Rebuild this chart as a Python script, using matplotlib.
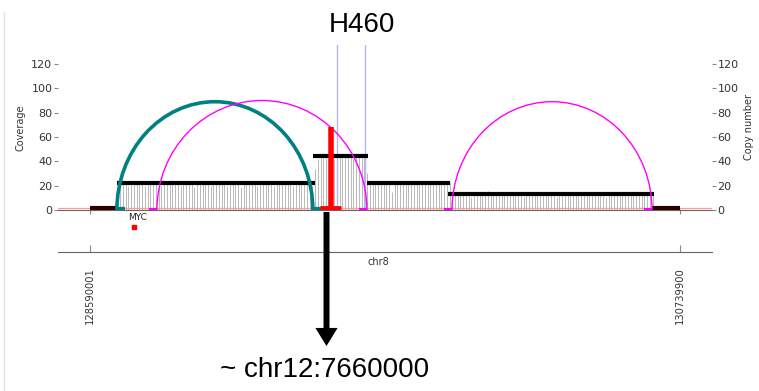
import matplotlib
matplotlib.use('Agg')
import matplotlib.pyplot as plt
from matplotlib.patches import Arc, FancyArrowPatch
from matplotlib.lines import Line2D

# region shown (chr8) and tick positions
chrom = 'chr8'
x_ticks = [128590001, 130739900]
x_lim = [128473400, 130856500]

# binned read coverage, 10 kb bins starting at the left tick
bin_start = 128590001
bin_size = 10000
cov_a = [1, 1, 1, 1, 1, 1, 1, 1, 1, 1]
cov_b = [14, 19, 21, 22, 20, 23, 21, 22, 24, 21, 20, 23, 22, 21, 24, 22, 20, 21, 23, 22,
         25, 21, 22, 20, 23, 24, 21, 22, 19, 22, 23, 21, 24, 22, 20, 22, 23, 21, 22, 24,
         20, 21, 23, 22, 21, 19, 22, 24, 23, 21, 22, 20, 23, 22, 21, 24, 22, 20, 21, 23,
         22, 21, 24, 22, 20, 23, 22, 21, 23, 24, 22, 20]
cov_c = [34, 42, 44, 45, 43, 46, 44, 42, 45, 44, 43, 46, 44, 45, 42, 44, 46, 43, 45, 30]
cov_d = [22, 23, 21, 24, 22, 23, 21, 22, 15, 23, 22, 24, 21, 22, 23, 22, 21, 24, 22, 23,
         21, 22, 24, 23, 21, 22, 23, 22, 21, 23]
cov_e = [12, 13, 12, 14, 13, 12, 13, 11, 13, 12, 14, 13, 12, 16, 13, 12, 13, 14, 12, 13,
         12, 13, 14, 12, 13, 12, 11, 13, 12, 14, 13, 12, 13, 12, 14, 13, 12, 13, 11, 13,
         14, 12, 13, 12, 13, 14, 12, 13, 12, 13, 12, 14, 13, 12, 13, 12, 11, 13, 14, 12,
         13, 12, 13, 14, 12, 13, 12, 13, 12, 14, 13, 12, 13, 12]
cov_f = [1, 1, 1, 1, 1, 1, 1, 1, 1, 1]
coverage = cov_a + cov_b + cov_c + cov_d + cov_e + cov_f

# copy number segments (start, end, cn)
cn_segments = [(128688000, 129409000, 22),
               (129402000, 129603000, 44),
               (129599000, 129902000, 22),
               (129894000, 130645000, 13)]
low_segments = [(128590001, 128688000, 1.5),
                (130638000, 130739900, 1.5)]

# breakpoint arcs: start, end, height, colour, width, foot direction at each end
arcs = [(128688000, 129402000, 89, '#008080', 2.6, (1, 1)),
        (128834000, 129599000, 90, '#ff00ff', 1.0, (-1, -1)),
        (129909000, 130638000, 89, '#ff00ff', 1.0, (-1, -1))]

# focused breakpoint (translocation to chr12)
tx_pos = 129468000
tx_height = 68
tx_base = (129428000, 129505000)
blue_lines = [129490000, 129592000]

gene_name = 'MYC'
gene_pos = 128750000

fig = plt.figure(figsize=(7.59, 3.91), dpi=100)

# faint border from the screenshot
fig.add_artist(Line2D([4 / 759, 4 / 759], [0, 1 - 12 / 391], color='#e4e4e4', lw=1))

# genome axis below
ax2 = fig.add_axes([58 / 759, 1 - 252 / 391, 654 / 759, 8 / 391])
ax2.patch.set_visible(False)
ax2.set_xlim(x_lim)
for sp in ['left', 'right', 'top']:
    ax2.spines[sp].set_visible(False)
ax2.spines['bottom'].set_color('#666666')
ax2.set_yticks([])
ax2.set_xticks(x_ticks)
ax2.set_xticklabels([str(t) for t in x_ticks], rotation=90, fontsize=7.2, color='#333333')
ax2.tick_params(axis='x', direction='in', length=5, color='#888888', pad=11)
fig.text(378 / 759, 1 - 262 / 391, chrom, fontsize=7, ha='center', va='center', color='#333333')

ax = fig.add_axes([58 / 759, 1 - 210 / 391, 654 / 759, 165 / 391])
ax.set_xlim(x_lim)
ax.set_ylim(0, 135.6)

xs = [bin_start + i * bin_size for i in range(len(coverage))]
ax.vlines(xs, 0, coverage, color='#b8b8b8', lw=0.7, zorder=1)

ax.axhline(1.5, color='#ff9a9a', lw=0.9, zorder=2)

for s, e, c in cn_segments:
    ax.hlines(c, s, e, color='black', lw=3, zorder=4)
for s, e, c in low_segments:
    ax.hlines(c, s, e, color='#2a0000', lw=3, zorder=4)

foot = 30000
for s, e, h, col, lw, d in arcs:
    ax.add_patch(Arc(((s + e) / 2, 0), e - s, 2 * h, theta1=0, theta2=180,
                     color=col, lw=lw, zorder=5))
    ax.hlines(1.0, s, s + d[0] * foot, color=col, lw=lw + 0.5, zorder=5)
    ax.hlines(1.0, e, e + d[1] * foot, color=col, lw=lw + 0.5, zorder=5)

for b in blue_lines:
    ax.axvline(b, color='#b4b4ff', lw=1, zorder=3)

ax.vlines(tx_pos, 0, tx_height, color='red', lw=4, zorder=6)
ax.hlines(1.5, tx_base[0], tx_base[1], color='red', lw=3.5, zorder=6)

ax.text(gene_pos + 15000, -6.5, gene_name, fontsize=6.5, ha='center', va='center',
        color='#222222')
ax.plot([gene_pos], [-14], marker='s', color='red', ms=3, clip_on=False)

for sp in ['left', 'right', 'top']:
    ax.spines[sp].set_visible(False)
ax.spines['bottom'].set_color('#666666')
ax.set_xticks(x_ticks)
ax.set_xticklabels([])
ax.tick_params(axis='x', length=3, color='#888888')
ax.set_yticks(range(0, 121, 20))
ax.tick_params(axis='y', length=3, color='#888888', labelsize=8, labelcolor='#333333', pad=1)
ax.set_ylabel('Coverage', fontsize=7, color='#333333', labelpad=4)

ax_r = ax.twinx()
ax_r.set_ylim(0, 135.6)
ax_r.set_yticks(range(0, 121, 20))
for sp in ['left', 'right', 'top', 'bottom']:
    ax_r.spines[sp].set_visible(False)
ax_r.tick_params(axis='y', length=3, color='#888888', labelsize=8, labelcolor='#333333', pad=1)
ax_r.set_ylabel('Copy number', fontsize=7, color='#333333', labelpad=4)

fig.text(362 / 759, 1 - 25 / 391, 'H460', fontsize=20, family='Liberation Sans',
         ha='center', va='center')
fig.text(325 / 759, 1 - 370 / 391, '~ chr12:7660000', fontsize=20, family='Liberation Sans',
         ha='center', va='center')

arrow = FancyArrowPatch((326.5 / 759, 1 - 212 / 391), (326.5 / 759, 1 - 346 / 391),
                        transform=fig.transFigure,
                        arrowstyle='simple,head_length=13,head_width=16,tail_width=4.3',
                        mutation_scale=1, lw=0, color='black',
                        shrinkA=0, shrinkB=0, zorder=10)
fig.add_artist(arrow)

fig.savefig('out.png', dpi=100)
